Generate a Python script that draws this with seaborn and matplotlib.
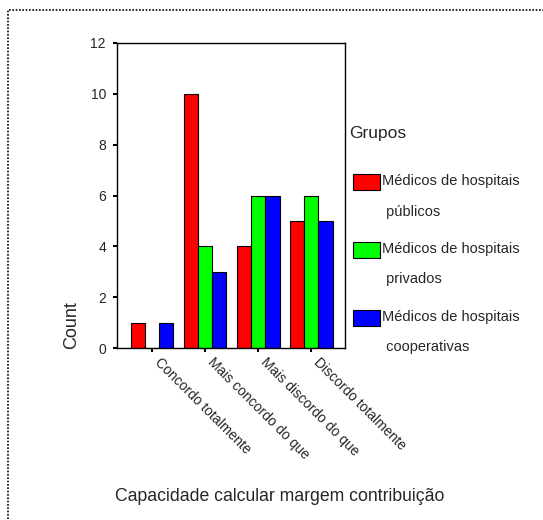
import matplotlib
matplotlib.use("Agg")
import matplotlib.pyplot as plt
import matplotlib.transforms as mtransforms
from matplotlib.patches import Rectangle
import seaborn as sns
import pandas as pd

categories = ["Concordo totalmente", "Mais concordo do que",
              "Mais discordo do que", "Discordo totalmente"]
groups = ["Médicos de hospitais públicos",
          "Médicos de hospitais privados",
          "Médicos de hospitais cooperativas"]
publicos = [1, 10, 4, 5]
privados = [0, 4, 6, 6]
cooperativas = [1, 3, 6, 5]
colors = ["#ff0000", "#00ff00", "#0000ff"]

df = pd.DataFrame({
    "categoria": categories * 3,
    "grupo": [groups[0]] * 4 + [groups[1]] * 4 + [groups[2]] * 4,
    "count": publicos + privados + cooperativas,
})

sns.set_style("white")
plt.rcParams["font.family"] = ["Liberation Sans", "DejaVu Sans"]

fig = plt.figure(figsize=(5.43, 5.20), dpi=100)
ax = fig.add_axes([117 / 543, 1 - 348 / 520, 228 / 543, 305 / 520])

sns.barplot(data=df, x="categoria", y="count", hue="grupo", order=categories,
            hue_order=groups, palette=colors, width=0.81, edgecolor="black",
            linewidth=0.8, saturation=1, ax=ax)

ax.set_ylim(0, 12)
ax.set_xlim(-0.66, 3.64)
ax.set_yticks(range(0, 13, 2))
for s in ax.spines.values():
    s.set_color("black")
    s.set_linewidth(1.0)
ax.tick_params(axis="both", direction="out", length=3, width=1.5, color="black",
               labelsize=10, left=True, bottom=True)
ax.tick_params(axis="y", pad=5)
ax.tick_params(axis="x", pad=2)
shift = mtransforms.ScaledTranslation(10 / 100, 0, fig.dpi_scale_trans)
for lbl in ax.get_xticklabels():
    lbl.set_rotation(-45)
    lbl.set_ha("left")
    lbl.set_va("top")
    lbl.set_rotation_mode("anchor")
    lbl.set_transform(lbl.get_transform() + shift)

ax.set_ylabel("Count", fontsize=13)
ax.yaxis.set_label_coords(-0.16, 0.075)
ax.set_xlabel("Capacidade calcular margem contribuição", fontsize=12.7)
ax.xaxis.set_label_coords(0.715, -0.459)

# legend with wrapped labels
handles, labels = ax.get_legend_handles_labels()
labels = [g.replace("hospitais ", "hospitais\n ") for g in labels]
leg = ax.legend(handles, labels, title="Grupos", loc="upper left",
                bbox_to_anchor=(1.018, 0.728), frameon=False, fontsize=10.5,
                title_fontsize=12.5, alignment="left", handlelength=1.85,
                handleheight=1.3, handletextpad=0.38, labelspacing=1.6,
                borderpad=0, borderaxespad=0)
leg._legend_box.sep += 7
for t in leg.get_texts():
    t.set_linespacing(2.5)
for p in leg.get_patches():
    p.set_y(p.get_y() + 10.5)
    p.set_x(p.get_x() + 3)
    p.set_edgecolor("black")

# dotted frame around the chart
fig.patches.append(Rectangle((8 / 543, -0.1), 2, 1 - 10 / 520 + 0.1,
                             transform=fig.transFigure, fill=False,
                             linestyle=(0, (1, 1)), linewidth=1.2,
                             edgecolor="black"))

fig.savefig("out.png", dpi=100)
